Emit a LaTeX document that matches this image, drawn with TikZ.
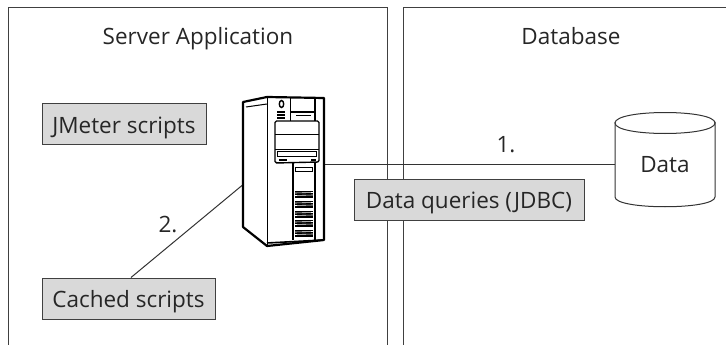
\documentclass[tikz,border=0pt]{standalone}
\usepackage{fontspec}
\setmainfont{Open Sans}
\tikzset{
  panel/.style={draw=black!75,line width=1pt},
  graybox/.style={draw=black!75,line width=1pt,fill=black!15,inner sep=0pt,minimum height=41pt,text height=18pt,text depth=0pt,font=\fontsize{22.5}{26}\selectfont,text=black!85},
  caption/.style={font=\fontsize{22.5}{26}\selectfont,text=black!85,inner sep=0pt,text height=18pt,text depth=0pt},
  link/.style={draw=black!80,line width=1pt},
  tower/.style={line width=2.2pt,line join=round},
  detail/.style={line width=1pt}
}
\begin{document}
\begin{tikzpicture}[x=1pt,y=-1pt]
  \useasboundingbox (0,0) rectangle (726,345);
  % panels
  \draw[panel] (8,345) -- (8,8) -- (387,8) -- (387,345);
  \draw[panel] (403,345) -- (403,8) -- (726,8);
  \node[caption] (server) at (198,36) {Server Application};
  \node[caption] (database) at (571,36) {Database};
  % connector anchors on the tower
  \coordinate (towerl) at (245,183);
  \coordinate (towerr) at (325,164);
  % data store
  \node[inner sep=0pt,minimum width=100pt,minimum height=82pt] (store) at (665,164) {};
  % links
  \draw[link] (towerr) -- (store.west);
  \node[graybox,minimum width=230pt] (queries) at (469,199.5) {Data queries (JDBC)};
  \node[graybox,minimum width=164pt] (jmeter) at (124,124) {JMeter scripts};
  \node[graybox,minimum width=173pt] (cached) at (128.5,298.5) {Cached scripts};
  \draw[link] (cached.north) ++(2.5,0) coordinate (cachedtop) (cachedtop) -- (towerl);
  \node[caption] (one) at (506,143) {1.};
  \node[caption] (two) at (168,223) {2.};
  % cylinder
  \draw[link,fill=white] (615,123) .. controls (615,131) and (715,131) .. (715,123)
    -- (715,197) .. controls (715,210) and (615,210) .. (615,197) -- cycle;
  \draw[link,fill=white] (615,123) .. controls (615,109) and (715,109) .. (715,123)
    .. controls (715,137) and (615,137) .. (615,123) -- cycle;
  \node[caption] (data) at (665,163) {Data};
  % tower body
  \draw[tower,fill=white] (243,102) -- (267,97) -- (324,98) -- (324,240) -- (267,246) -- (243,227) -- cycle;
  \draw[detail] (246,107) -- (267,104);
  \draw[detail] (267,97) -- (267,246);
  \draw[line width=1.6pt] (267,243) -- (323,240);
  \draw[detail] (290,98) -- (290,121);
  \draw[line width=1.4pt] (315,98) -- (315,121);
  % drive bay
  \draw[line width=1.4pt,fill=white,rounded corners=1.5pt] (275,121) -- (319,121) -- (319,162) -- (275,163) -- cycle;
  \draw[detail] (275,134) -- (319,134);
  \draw[detail] (275,149) -- (319,149);
  \draw[detail] (277,151) rectangle (316,156);
  \fill (279,159) rectangle (287,160.5);
  \fill (311,159) rectangle (316,160.5);
  % upper bay
  \draw[line width=1.6pt] (291,112) -- (314,112);
  \draw[detail] (296,115) -- (311,115);
  % badge and buttons
  \draw[line width=1.4pt] (281.5,104) ellipse (2.2 and 3.5);
  \foreach \y in {112,115,118}
    \draw[line width=1.2pt] (277,\y) -- (285,\y);
  % front column
  \draw[line width=1.4pt] (293,163) -- (293,240);
  \draw[line width=1.4pt] (315,162) -- (315,240);
  \draw[detail] (295,167) rectangle (312,171);
  \foreach \y in {194,204,214,223,233} {
    \fill (295,\y-3.5) rectangle (313,\y+3.5);
    \draw[white,line width=.6pt] (295,\y-1) -- (313,\y-1.5);
    \draw[white,line width=.6pt] (295,\y+1.5) -- (313,\y+1);
  }
\end{tikzpicture}
\end{document}
